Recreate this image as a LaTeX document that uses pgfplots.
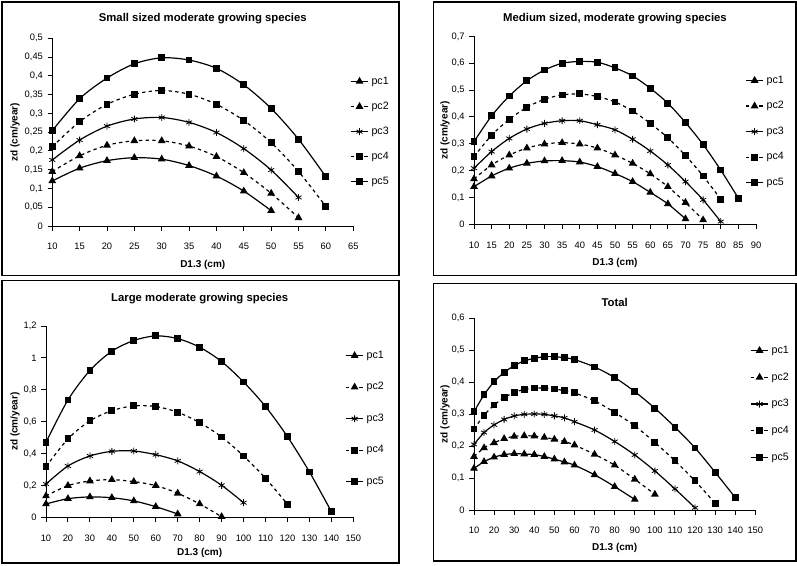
\documentclass[border=0pt]{standalone}
\usepackage{fontspec}
\setmainfont{Liberation Sans}
\usepackage{pgfplots}
\pgfplotsset{compat=1.18}
\pgfplotsset{
 panel/.style={
  scale only axis, anchor=south west,
  axis x line*=bottom, axis y line*=left,
  tick align=outside, major tick length=3.5pt,
  axis line style={line width=0.7pt,black},
  every tick/.style={black,line width=0.7pt},
  tick label style={font=\fontsize{7}{8}\selectfont},
  xticklabel style={yshift=-6pt},
  /pgf/number format/assume math mode=true,
  /pgf/number format/fixed,
  /pgf/number format/precision=2,
  /pgf/number format/use comma,
  ymin=0, xmin=10, clip=false,
  title style={font=\bfseries\fontsize{8.5}{10}\selectfont, anchor=center},
  label style={font=\bfseries\fontsize{7.5}{9}\selectfont, anchor=center},
  xlabel={D1.3 (cm)}, ylabel={zd (cm/year)},
  legend cell align=left,
  legend style={draw=none, fill=none, font=\fontsize{8}{9}\selectfont, inner sep=0pt, anchor=north west},
  legend image code/.code={\draw[mark repeat=2,mark phase=2,##1] plot coordinates {(0cm,0cm) (0.23cm,0cm) (0.46cm,0cm)};},
 },
 pcA/.style={black, line width=0.9pt, smooth, mark=triangle*, mark size=2.5pt, mark options={solid}},
 pcB/.style={black, line width=0.9pt, smooth, dash pattern=on 2.5pt off 2.5pt, mark=triangle*, mark size=2.5pt, mark options={solid}},
 pcC/.style={black, line width=0.9pt, smooth, mark=asterisk, mark size=2.6pt, mark options={solid,line width=0.6pt}},
 pcD/.style={black, line width=0.9pt, smooth, dash pattern=on 2.5pt off 2.5pt, mark=square*, mark size=2.1pt, mark options={solid}},
 pcE/.style={black, line width=0.9pt, smooth, mark=square*, mark size=2.1pt, mark options={solid}},
}
\begin{document}
\begin{tikzpicture}
\path[use as bounding box] (0,0) rectangle (597.75pt,-423.75pt);
\begin{scope}[x=0.75pt,y=-0.75pt,line width=1.1pt]
\draw (2,2) rectangle (399,275.5);
\draw (433.5,2) rectangle (796,275.5);
\draw (2,280.5) rectangle (399,563);
\draw (433.5,283.5) rectangle (796,561);
\end{scope}

% Panel 1
\begin{axis}[panel, at={(39.2pt,-169.5pt)}, width=225.75pt, height=140.8pt,
  xmax=65, ymax=0.5, xtick={10,15,20,25,30,35,40,45,50,55,60,65},
  ytick={0,0.05,0.1,0.15,0.2,0.25,0.3,0.35,0.4,0.45,0.5},
  title={Small sized moderate growing species},
  title style={at={([yshift=8.45pt]rel axis cs:0.5,1)}},
  xlabel style={at={([yshift=-29.25pt]rel axis cs:0.5,0)}},
  ylabel style={at={([xshift=-28pt]rel axis cs:0,0.5)}},
  legend style={at={(rel axis cs:0.989,0.811)}, row sep=7.8pt}]
\addplot[pcA] coordinates {(10,0.120)(15,0.154)(20,0.174)(25,0.182)(30,0.178)(35,0.161)(40,0.133)(45,0.093)(50,0.041)};
\addplot[pcB] coordinates {(10,0.145)(15,0.187)(20,0.215)(25,0.227)(30,0.227)(35,0.213)(40,0.185)(45,0.142)(50,0.087)(55,0.022)};
\addplot[pcC] coordinates {(10,0.176)(15,0.229)(20,0.266)(25,0.285)(30,0.289)(35,0.276)(40,0.249)(45,0.206)(50,0.149)(55,0.076)};
\addplot[pcD] coordinates {(10,0.211)(15,0.278)(20,0.324)(25,0.351)(30,0.361)(35,0.351)(40,0.324)(45,0.281)(50,0.222)(55,0.145)(60,0.052)};
\addplot[pcE] coordinates {(10,0.254)(15,0.339)(20,0.394)(25,0.432)(30,0.448)(35,0.442)(40,0.420)(45,0.376)(50,0.313)(55,0.231)(60,0.131)};
\legend{pc1,pc2,pc3,pc4,pc5}
\end{axis}

% Panel 2
\begin{axis}[panel, at={(355.5pt,-168.2pt)}, width=211.5pt, height=140.85pt,
  xmax=90, ymax=0.7, xtick={10,15,20,25,30,35,40,45,50,55,60,65,70,75,80,85,90},
  ytick={0,0.1,0.2,0.3,0.4,0.5,0.6,0.7},
  title={Medium sized, moderate growing  species},
  title style={at={([yshift=7.15pt]rel axis cs:0.5,1)}},
  xlabel style={at={([yshift=-29pt]rel axis cs:0.5,0)}},
  ylabel style={at={([xshift=-21.75pt]rel axis cs:0,0.5)}},
  legend style={at={(rel axis cs:0.961,0.806)}, row sep=8.1pt}]
\addplot[pcA] coordinates {(10,0.140)(15,0.180)(20,0.209)(25,0.227)(30,0.236)(35,0.237)(40,0.232)(45,0.215)(50,0.189)(55,0.159)(60,0.119)(65,0.076)(70,0.020)};
\addplot[pcB] coordinates {(10,0.169)(15,0.221)(20,0.258)(25,0.284)(30,0.299)(35,0.304)(40,0.299)(45,0.284)(50,0.258)(55,0.227)(60,0.188)(65,0.140)(70,0.081)(75,0.016)};
\addplot[pcC] coordinates {(10,0.209)(15,0.271)(20,0.320)(25,0.355)(30,0.376)(35,0.386)(40,0.386)(45,0.371)(50,0.352)(55,0.317)(60,0.273)(65,0.221)(70,0.159)(75,0.091)(80,0.010)};
\addplot[pcD] coordinates {(10,0.252)(15,0.332)(20,0.391)(25,0.436)(30,0.466)(35,0.482)(40,0.486)(45,0.476)(50,0.456)(55,0.422)(60,0.376)(65,0.322)(70,0.256)(75,0.180)(80,0.093)};
\addplot[pcE] coordinates {(10,0.308)(15,0.404)(20,0.478)(25,0.535)(30,0.575)(35,0.600)(40,0.607)(45,0.604)(50,0.583)(55,0.553)(60,0.507)(65,0.451)(70,0.379)(75,0.297)(80,0.202)(85,0.097)};
\legend{pc1,pc2,pc3,pc4,pc5}
\end{axis}

% Panel 3
\begin{axis}[panel, at={(34.5pt,-388pt)}, width=230.5pt, height=143.5pt,
  xmax=150, ymax=1.2, xtick={10,20,30,40,50,60,70,80,90,100,110,120,130,140,150},
  ytick={0,0.2,0.4,0.6,0.8,1,1.2},
  title={Large moderate growing species},
  title style={at={([yshift=14.25pt]rel axis cs:0.5,1)}},
  xlabel style={at={([yshift=-26.8pt]rel axis cs:0.5,0)}},
  ylabel style={at={([xshift=-23.25pt]rel axis cs:0,0.5)}},
  legend style={at={(rel axis cs:0.973,0.885)}, row sep=12.6pt}]
\addplot[pcA] coordinates {(10,0.084)(20,0.117)(30,0.128)(40,0.123)(50,0.103)(60,0.067)(70,0.021)};
\addplot[pcB] coordinates {(10,0.134)(20,0.199)(30,0.228)(40,0.236)(50,0.224)(60,0.199)(70,0.151)(80,0.084)(90,0.004)};
\addplot[pcC] coordinates {(10,0.209)(20,0.322)(30,0.385)(40,0.414)(50,0.416)(60,0.393)(70,0.354)(80,0.287)(90,0.201)(100,0.092)};
\addplot[pcD] coordinates {(10,0.318)(20,0.492)(30,0.605)(40,0.669)(50,0.699)(60,0.695)(70,0.659)(80,0.594)(90,0.504)(100,0.385)(110,0.245)(120,0.082)};
\addplot[pcE] coordinates {(10,0.471)(20,0.736)(30,0.921)(40,1.042)(50,1.109)(60,1.138)(70,1.121)(80,1.067)(90,0.977)(100,0.849)(110,0.695)(120,0.506)(130,0.285)(140,0.036)};
\legend{pc1,pc2,pc3,pc4,pc5}
\end{axis}

% Panel 4
\begin{axis}[panel, at={(355.5pt,-382.5pt)}, width=211pt, height=144pt,
  xmax=150, ymax=0.6, xtick={10,20,30,40,50,60,70,80,90,100,110,120,130,140,150},
  ytick={0,0.1,0.2,0.3,0.4,0.5,0.6},
  title={Total},
  title style={at={([yshift=6pt]rel axis cs:0.5,1)}},
  xlabel style={at={([yshift=-28.5pt]rel axis cs:0.5,0)}},
  ylabel style={at={([xshift=-21.75pt]rel axis cs:0,0.5)}},
  legend style={at={(rel axis cs:0.981,0.870)}, row sep=9pt}]
\addplot[pcA] coordinates {(10,0.130)(15,0.151)(20,0.165)(25,0.173)(30,0.176)(35,0.175)(40,0.173)(45,0.167)(50,0.159)(55,0.150)(60,0.140)(70,0.110)(80,0.073)(90,0.033)};
\addplot[pcB] coordinates {(10,0.167)(15,0.194)(20,0.210)(25,0.223)(30,0.230)(35,0.232)(40,0.231)(45,0.227)(50,0.221)(55,0.214)(60,0.203)(70,0.174)(80,0.140)(90,0.096)(100,0.049)};
\addplot[pcC] coordinates {(10,0.205)(15,0.242)(20,0.266)(25,0.283)(30,0.294)(35,0.299)(40,0.300)(45,0.299)(50,0.294)(55,0.288)(60,0.276)(70,0.250)(80,0.214)(90,0.172)(100,0.122)(110,0.066)(120,0.007)};
\addplot[pcD] coordinates {(10,0.253)(15,0.296)(20,0.328)(25,0.351)(30,0.367)(35,0.377)(40,0.381)(45,0.381)(50,0.378)(55,0.373)(60,0.366)(70,0.341)(80,0.305)(90,0.263)(100,0.211)(110,0.154)(120,0.091)(130,0.021)};
\addplot[pcE] coordinates {(10,0.307)(15,0.360)(20,0.401)(25,0.430)(30,0.451)(35,0.466)(40,0.474)(45,0.479)(50,0.479)(55,0.476)(60,0.470)(70,0.447)(80,0.414)(90,0.370)(100,0.318)(110,0.259)(120,0.194)(130,0.118)(140,0.039)};
\legend{pc1,pc2,pc3,pc4,pc5}
\end{axis}
\end{tikzpicture}
\end{document}
